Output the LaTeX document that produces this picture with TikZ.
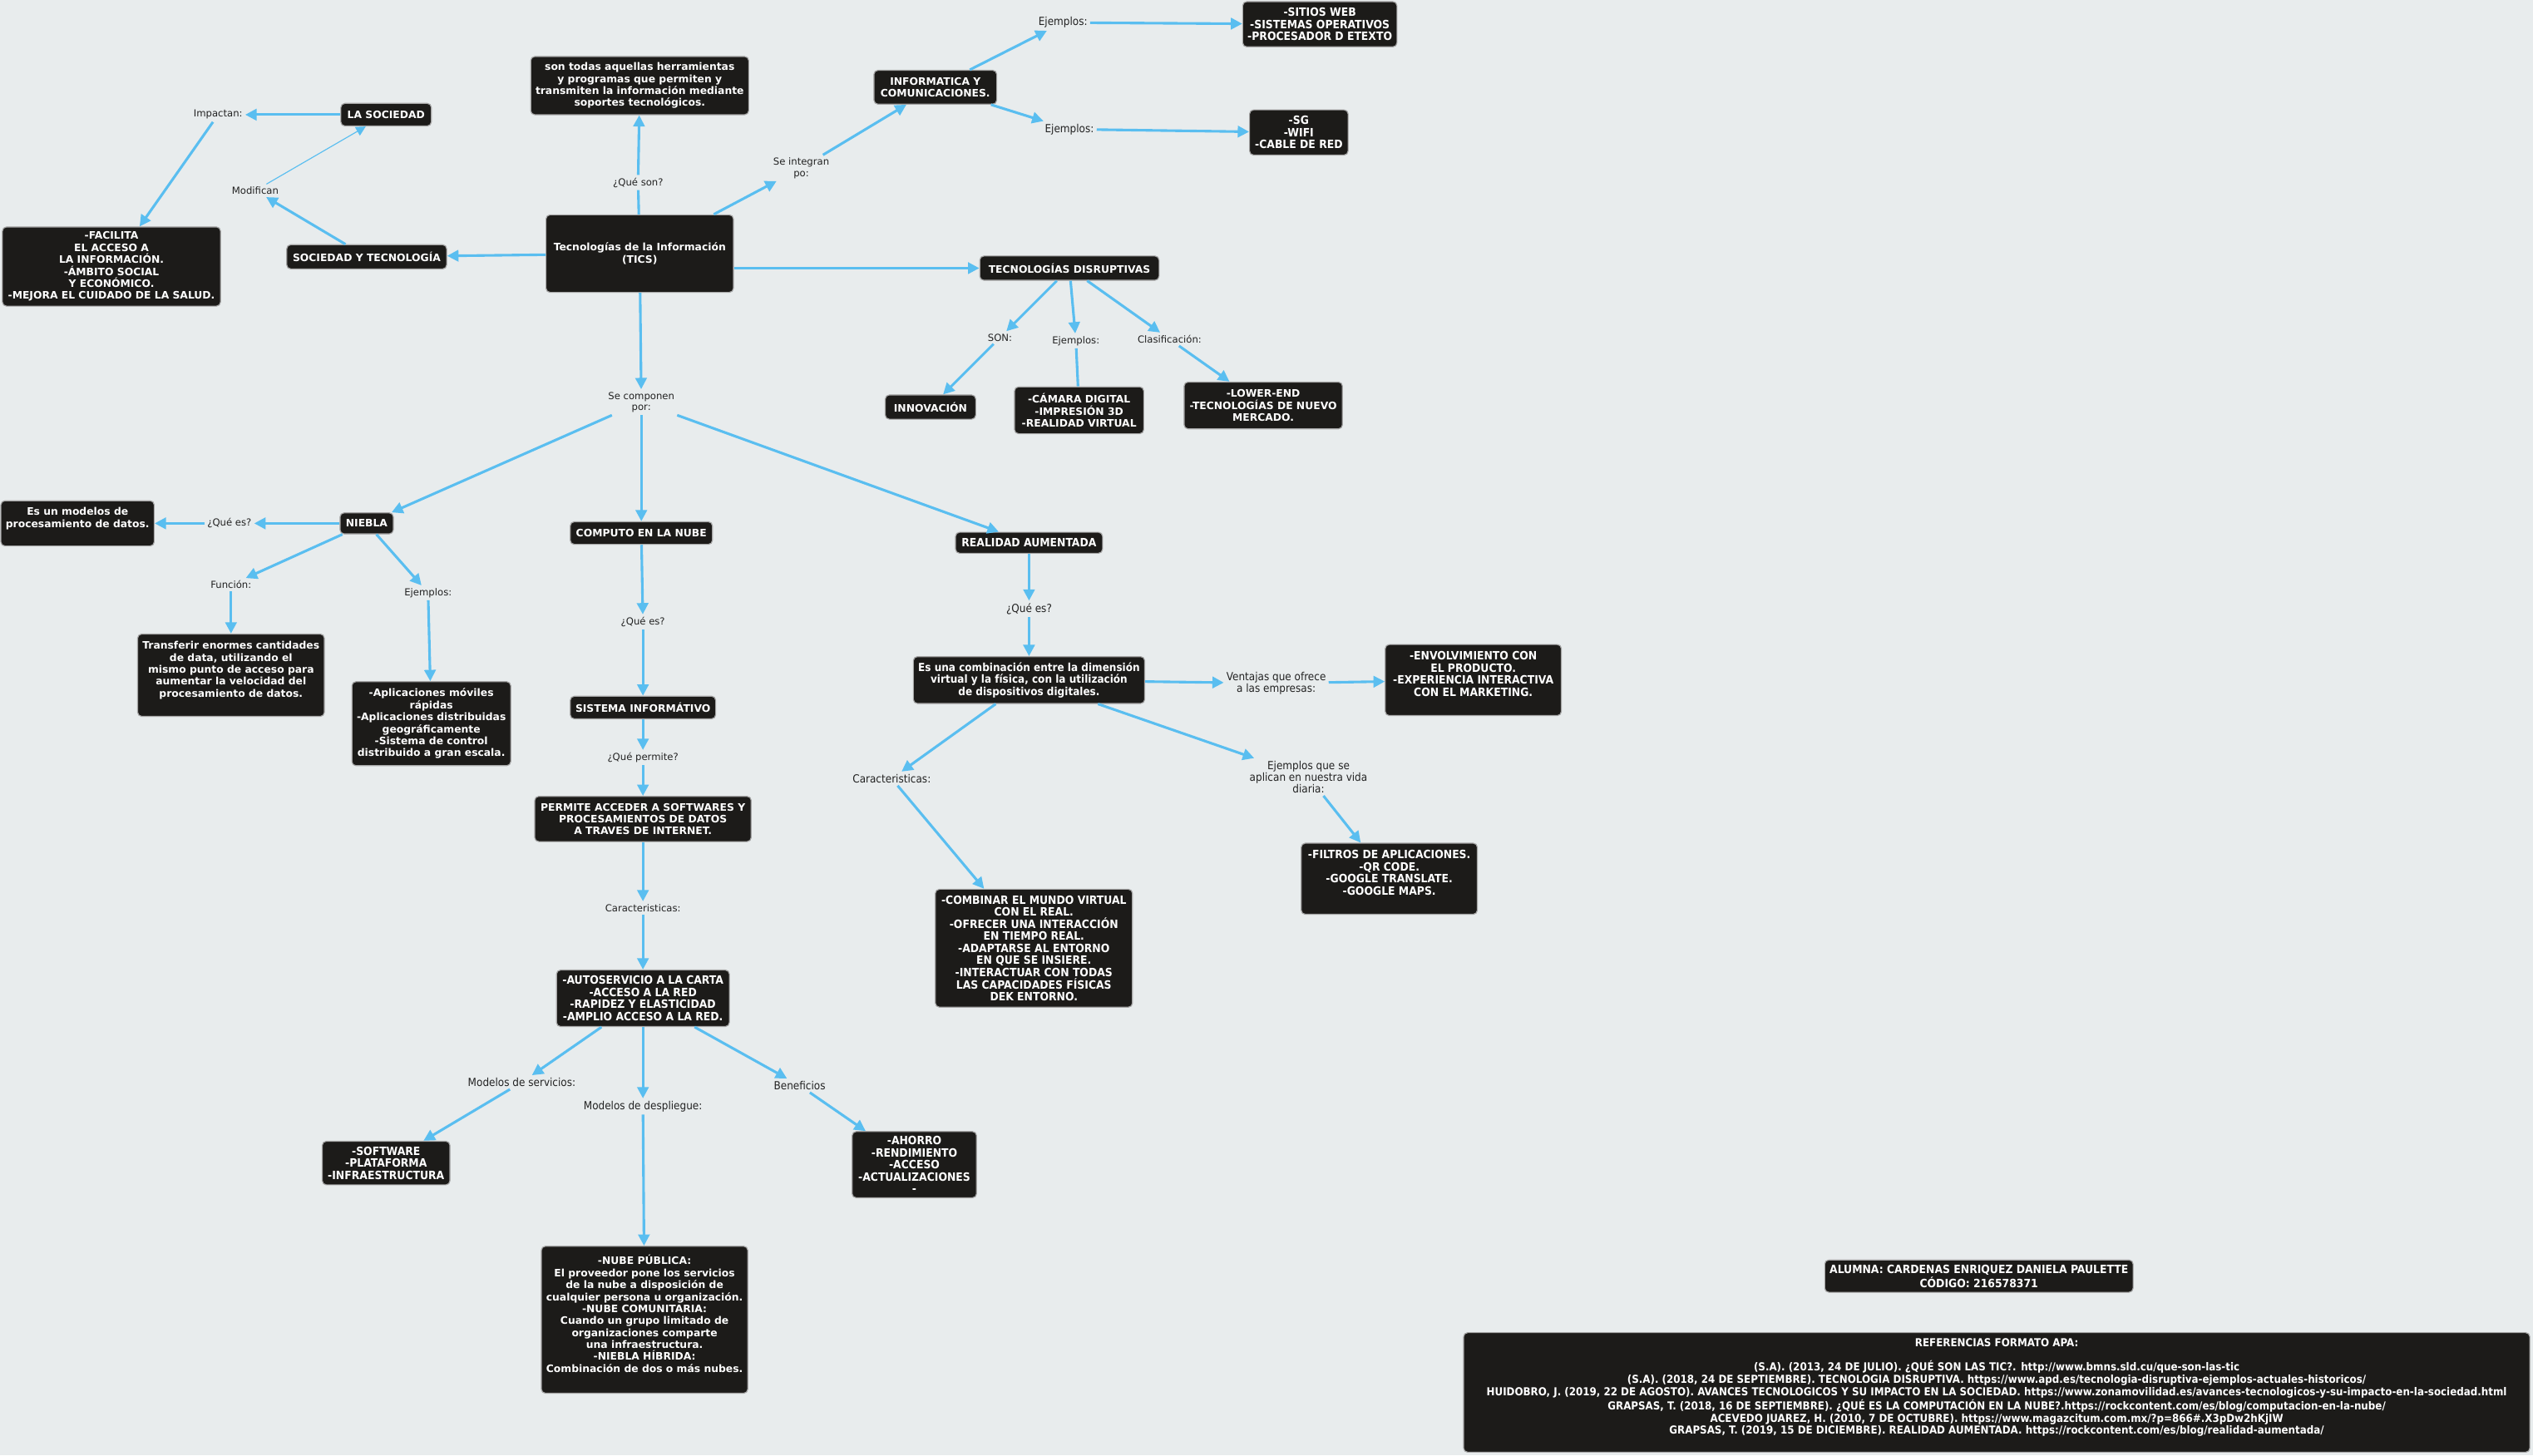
\documentclass[tikz,border=0pt]{standalone}
\usepackage{fontspec}
\setmainfont{DejaVu Sans}
\newfontfamily\condfont{DejaVuSansCondensed}[Extension=.ttf, BoldFont=DejaVuSansCondensed-Bold]
\usepackage{xcolor}
\usetikzlibrary{arrows.meta,positioning,calc}
\definecolor{bgcol}{RGB}{232,236,237}
\definecolor{boxfill}{RGB}{28,27,25}
\definecolor{boxline}{RGB}{165,165,165}
\definecolor{linkblue}{RGB}{90,190,240}
\definecolor{lbltext}{RGB}{35,35,35}

\begin{document}
\begin{tikzpicture}[
  x=1pt, y=-1pt,
  box/.style={draw=boxline, fill=boxfill, text=white, line width=0.6pt,
    rounded corners=2.5pt, align=center, inner xsep=3pt, inner ysep=2pt,
    font=\bfseries\fontsize{6.35}{7.4}\selectfont},
  cbox/.style={box, font=\condfont\bfseries\fontsize{7.1}{7.5}\selectfont},
  lbl/.style={align=center, inner sep=1.5pt, text=lbltext,
    font=\fontsize{6}{7}\selectfont},
  clbl/.style={lbl, font=\condfont\fontsize{6.9}{7.3}\selectfont},
  link/.style={draw=linkblue, line width=1.6pt, -{Triangle[length=7pt,width=7pt]}},
  plain/.style={draw=linkblue, line width=1.6pt},
  thinlink/.style={draw=linkblue, line width=0.6pt, -{Triangle[length=6pt,width=6pt]}},
]
\useasboundingbox (0,0) rectangle (1568,901);
\fill[bgcol] (0,0) rectangle (1568,901);

% ---- centre and top branch
\node[box, minimum width=116pt, minimum height=48pt] (tics) at (396,157)
  {Tecnologías de la Información\\(TICS)};
\node[lbl] (qson) at (395,113) {¿Qué son?};
\node[box, minimum width=133pt, minimum height=36pt] (defi) at (396,53)
  {son todas aquellas herramientas\\y programas que permiten y\\transmiten la información mediante\\soportes tecnológicos.};
\node[lbl] (integ) at (496,104) {Se integran\\po:};
\node[box, minimum width=76pt, minimum height=21pt] (infor) at (579,54)
  {INFORMATICA Y\\COMUNICACIONES.};
\node[clbl] (ejA) at (658,14) {Ejemplos:};
\node[cbox, minimum width=95pt, minimum height=28pt] (web) at (817,15)
  {-SITIOS WEB\\-SISTEMAS OPERATIVOS\\-PROCESADOR D ETEXTO};
\node[clbl] (ejB) at (662,80) {Ejemplos:};
\node[cbox, minimum width=61pt, minimum height=28pt] (redes) at (804,82)
  {-SG\\-WIFI\\-CABLE DE RED};

% ---- disruptive technologies
\node[box, minimum width=111pt, minimum height=15pt] (disr) at (662,166)
  {TECNOLOGÍAS DISRUPTIVAS};
\node[lbl] (son) at (619,209) {SON:};
\node[lbl] (ejC) at (666,211) {Ejemplos:};
\node[lbl] (clas) at (724,210) {Clasificación:};
\node[box, minimum width=56pt, minimum height=15pt] (innov) at (576,252) {INNOVACIÓN};
\node[box, minimum width=80pt, minimum height=29pt] (camara) at (668,254)
  {-CÁMARA DIGITAL\\-IMPRESIÓN 3D\\-REALIDAD VIRTUAL};
\node[box, minimum width=98pt, minimum height=29pt] (lower) at (782,251)
  {-LOWER-END\\-TECNOLOGÍAS DE NUEVO\\MERCADO.};

% ---- society
\node[box, minimum width=99pt, minimum height=15pt] (soctec) at (227,159)
  {SOCIEDAD Y TECNOLOGÍA};
\node[lbl] (modif) at (158,118) {Modifican};
\node[box, minimum width=56pt, minimum height=14pt] (socie) at (239,71) {LA SOCIEDAD};
\node[lbl] (impac) at (135,71) {Impactan:};
\node[box, minimum width=135pt, minimum height=49pt] (facil) at (69,165)
  {-FACILITA\\EL ACCESO A\\LA INFORMACIÓN.\\-ÁMBITO SOCIAL\\Y ECONÓMICO.\\-MEJORA EL CUIDADO DE LA SALUD.};

% ---- components
\node[lbl] (compon) at (397,249) {Se componen\\por:};
\node[box, minimum width=33pt, minimum height=13pt] (niebla) at (227,324) {NIEBLA};
\node[lbl] (qesA) at (142,324) {¿Qué es?};
\node[box, minimum width=92pt, minimum height=28pt] (modelo) at (48,324)
  {Es un modelos de\\procesamiento de datos.\\~};
\node[lbl] (func) at (143,362) {Función:};
\node[lbl] (ejD) at (265,367) {Ejemplos:};
\node[box, minimum width=112pt, minimum height=51pt] (transf) at (143,418)
  {Transferir enormes cantidades\\de data, utilizando el\\mismo punto de acceso para\\aumentar la velocidad del\\procesamiento de datos.\\~};
\node[box, minimum width=97pt, minimum height=52pt] (aplic) at (267,448)
  {-Aplicaciones móviles\\rápidas\\-Aplicaciones distribuidas\\geográficamente\\-Sistema de control\\distribuido a gran escala.};

% ---- cloud computing
\node[box, minimum width=88pt, minimum height=14pt] (nube) at (397,330) {COMPUTO EN LA NUBE};
\node[lbl] (qesB) at (398,385) {¿Qué es?};
\node[box, minimum width=90pt, minimum height=14pt] (sist) at (398,438) {SISTEMA INFORMÁTIVO};
\node[lbl] (qperm) at (398,469) {¿Qué permite?};
\node[box, minimum width=134pt, minimum height=28pt] (perm) at (398,507)
  {PERMITE ACCEDER A SOFTWARES Y\\PROCESAMIENTOS DE DATOS\\A TRAVES DE INTERNET.};
\node[lbl] (caracA) at (398,562) {Caracteristicas:};
\node[cbox, minimum width=107pt, minimum height=35pt] (auto) at (398,618)
  {-AUTOSERVICIO A LA CARTA\\-ACCESO A LA RED\\-RAPIDEZ Y ELASTICIDAD\\-AMPLIO ACCESO A LA RED.};
\node[clbl] (mserv) at (323,670) {Modelos de servicios:};
\node[clbl] (mdesp) at (398,685) {Modelos de despliegue:};
\node[clbl] (benef) at (495,672) {Beneficios};
\node[cbox, minimum width=79pt, minimum height=27pt] (softw) at (239,720)
  {-SOFTWARE\\-PLATAFORMA\\-INFRAESTRUCTURA};
\node[cbox, minimum width=77pt, minimum height=41pt] (ahorro) at (566,721)
  {-AHORRO\\-RENDIMIENTO\\-ACCESO\\-ACTUALIZACIONES\\-};
\node[box, minimum width=125pt, minimum height=91pt] (publ) at (399,817)
  {-NUBE PÚBLICA:\\El proveedor pone los servicios\\de la nube a disposición de\\cualquier persona u organización.\\-NUBE COMUNITARIA:\\Cuando un grupo limitado de\\organizaciones comparte\\una infraestructura.\\-NIEBLA HÍBRIDA:\\Combinación de dos o más nubes.\\~};

% ---- augmented reality
\node[cbox, minimum width=91pt, minimum height=13pt] (ra) at (637,336) {REALIDAD AUMENTADA};
\node[clbl] (qesC) at (637,377) {¿Qué es?};
\node[cbox, minimum width=143pt, minimum height=29pt, font=\condfont\bfseries\fontsize{6.9}{7.5}\selectfont] (combi) at (637,421)
  {Es una combinación entre la dimensión\\virtual y la física, con la utilización\\de dispositivos digitales.};
\node[clbl] (vent) at (790,423) {Ventajas que ofrece\\a las empresas:};
\node[cbox, minimum width=109pt, minimum height=44pt] (envol) at (912,421)
  {-ENVOLVIMIENTO CON\\EL PRODUCTO.\\-EXPERIENCIA INTERACTIVA\\CON EL MARKETING.\\~};
\node[clbl] (caracB) at (552,482) {Caracteristicas:};
\node[clbl] (ejvida) at (810,481) {Ejemplos que se\\aplican en nuestra vida\\diaria:};
\node[cbox, minimum width=122pt, minimum height=73pt] (mundo) at (640,587)
  {-COMBINAR EL MUNDO VIRTUAL\\CON EL REAL.\\-OFRECER UNA INTERACCIÓN\\EN TIEMPO REAL.\\-ADAPTARSE AL ENTORNO\\EN QUE SE INSIERE.\\-INTERACTUAR CON TODAS\\LAS CAPACIDADES FÍSICAS\\DEK ENTORNO.};
\node[cbox, minimum width=109pt, minimum height=44pt] (filtros) at (860,544)
  {-FILTROS DE APLICACIONES.\\-QR CODE.\\-GOOGLE TRANSLATE.\\-GOOGLE MAPS.\\~};

% ---- author and references
\node[cbox, minimum width=189pt, minimum height=20pt] (alumna) at (1225,790)
  {ALUMNA: CARDENAS ENRIQUEZ DANIELA PAULETTE\\CÓDIGO: 216578371};
\node[cbox, minimum width=660pt, minimum height=74pt, font=\condfont\bfseries\fontsize{6.8}{7.6}\selectfont] (refs) at (1236,862)
  {REFERENCIAS FORMATO APA:\\~\\
  (S.A). (2013, 24 DE JULIO). ¿QUÉ SON LAS TIC?. http://www.bmns.sld.cu/que-son-las-tic\\
  (S.A). (2018, 24 DE SEPTIEMBRE). TECNOLOGIA DISRUPTIVA. https://www.apd.es/tecnologia-disruptiva-ejemplos-actuales-historicos/\\
  HUIDOBRO, J. (2019, 22 DE AGOSTO). AVANCES TECNOLOGICOS Y SU IMPACTO EN LA SOCIEDAD. https://www.zonamovilidad.es/avances-tecnologicos-y-su-impacto-en-la-sociedad.html\\
  GRAPSAS, T. (2018, 16 DE SEPTIEMBRE). ¿QUÉ ES LA COMPUTACIÓN EN LA NUBE?.https://rockcontent.com/es/blog/computacion-en-la-nube/\\
  ACEVEDO JUAREZ, H. (2010, 7 DE OCTUBRE). https://www.magazcitum.com.mx/?p=866\#.X3pDw2hKjIW\\
  GRAPSAS, T. (2019, 15 DE DICIEMBRE). REALIDAD AUMENTADA. https://rockcontent.com/es/blog/realidad-aumentada/\\~};

% ---- connectors
\draw[plain] (tics) -- (qson);
\draw[plain] (ejC) -- (camara);
\draw[link] (tics.east |- disr.west) -- (disr.west);
\draw[thinlink] (modif) -- (socie);
\foreach \a/\b in {qson/defi, tics/integ, integ/infor, infor/ejA, ejA/web, infor/ejB, ejB/redes,
  disr/son, son/innov, disr/ejC, disr/clas, clas/lower,
  tics/soctec, soctec/modif, socie/impac, impac/facil,
  tics/compon, compon/niebla, compon/nube, compon/ra,
  niebla/qesA, qesA/modelo, niebla/func, func/transf, niebla/ejD, ejD/aplic,
  nube/qesB, qesB/sist, sist/qperm, qperm/perm, perm/caracA, caracA/auto,
  auto/mserv, mserv/softw, auto/mdesp, mdesp/publ, auto/benef, benef/ahorro,
  ra/qesC, qesC/combi, combi/vent, vent/envol, combi/caracB, caracB/mundo,
  combi/ejvida, ejvida/filtros}
  \draw[link] (\a) -- (\b);
\end{tikzpicture}
\end{document}
